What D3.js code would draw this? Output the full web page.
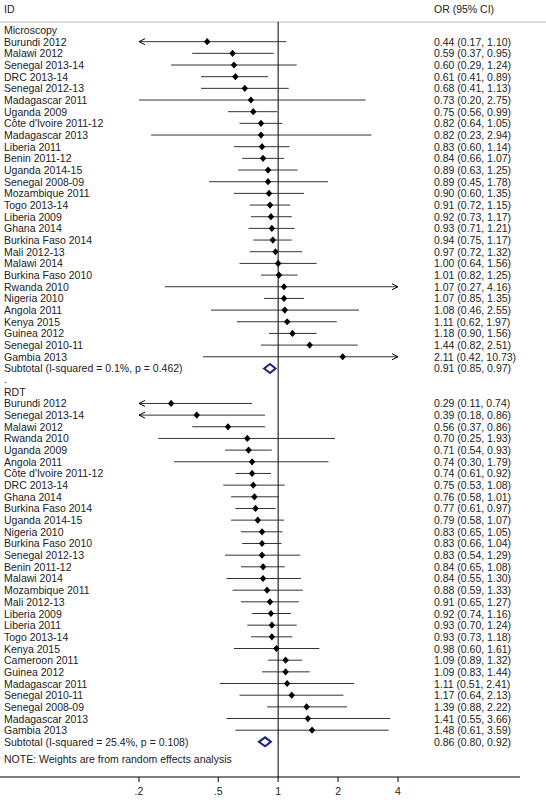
<!DOCTYPE html><html><head><meta charset="utf-8"><script src="https://cdn.jsdelivr.net/npm/d3@7"></script>
<style>body{margin:0;background:#fff}text{font-family:"Liberation Sans",Arial,sans-serif;font-size:10.5px;fill:#222}</style></head><body>
<script>
const micLabels=["Burundi 2012","Malawi 2012","Senegal 2013-14","DRC 2013-14","Senegal 2012-13","Madagascar 2011","Uganda 2009","Côte d'Ivoire 2011-12","Madagascar 2013","Liberia 2011","Benin 2011-12","Uganda 2014-15","Senegal 2008-09","Mozambique 2011","Togo 2013-14","Liberia 2009","Ghana 2014","Burkina Faso 2014","Mali 2012-13","Malawi 2014","Burkina Faso 2010","Rwanda 2010","Nigeria 2010","Angola 2011","Kenya 2015","Guinea 2012","Senegal 2010-11","Gambia 2013"];
const micOR=[0.44,0.59,0.60,0.61,0.68,0.73,0.75,0.82,0.82,0.83,0.84,0.89,0.89,0.90,0.91,0.92,0.93,0.94,0.97,1.00,1.01,1.07,1.07,1.08,1.11,1.18,1.44,2.11];
const micLo=[0.17,0.37,0.29,0.41,0.41,0.20,0.56,0.64,0.23,0.60,0.66,0.63,0.45,0.60,0.72,0.73,0.71,0.75,0.72,0.64,0.82,0.27,0.85,0.46,0.62,0.90,0.82,0.42];
const micHi=[1.10,0.95,1.24,0.89,1.13,2.75,0.99,1.05,2.94,1.14,1.07,1.25,1.78,1.35,1.15,1.17,1.21,1.17,1.32,1.56,1.25,4.16,1.35,2.55,1.97,1.56,2.51,10.73];
const micSub=[0.91,0.85,0.97], micSubLabel="Subtotal  (I-squared = 0.1%, p = 0.462)";
const rdtLabels=["Burundi 2012","Senegal 2013-14","Malawi 2012","Rwanda 2010","Uganda 2009","Angola 2011","Côte d'Ivoire 2011-12","DRC 2013-14","Ghana 2014","Burkina Faso 2014","Uganda 2014-15","Nigeria 2010","Burkina Faso 2010","Senegal 2012-13","Benin 2011-12","Malawi 2014","Mozambique 2011","Mali 2012-13","Liberia 2009","Liberia 2011","Togo 2013-14","Kenya 2015","Cameroon 2011","Guinea 2012","Madagascar 2011","Senegal 2010-11","Senegal 2008-09","Madagascar 2013","Gambia 2013"];
const rdtOR=[0.29,0.39,0.56,0.70,0.71,0.74,0.74,0.75,0.76,0.77,0.79,0.83,0.83,0.83,0.84,0.84,0.88,0.91,0.92,0.93,0.93,0.98,1.09,1.09,1.11,1.17,1.39,1.41,1.48];
const rdtLo=[0.11,0.18,0.37,0.25,0.54,0.30,0.61,0.53,0.58,0.61,0.58,0.65,0.66,0.54,0.65,0.55,0.59,0.65,0.74,0.70,0.73,0.60,0.89,0.83,0.51,0.64,0.88,0.55,0.61];
const rdtHi=[0.74,0.86,0.86,1.93,0.93,1.79,0.92,1.08,1.01,0.97,1.07,1.05,1.04,1.29,1.08,1.30,1.33,1.27,1.16,1.24,1.18,1.61,1.32,1.44,2.41,2.13,2.22,3.66,3.59];
const rdtSub=[0.86,0.80,0.92], rdtSubLabel="Subtotal  (I-squared = 25.4%, p = 0.108)";
const ticks=[0.2,0.5,1,2,4], tickLabels=[".2",".5","1","2","4"];
const fmt=v=>v.toFixed(2);
const svg=d3.select("body").append("svg").attr("width",546).attr("height",800);
const x=d3.scaleLog().base(2).domain([0.2,4]).range([139,398]);
const clipLo=0.2, clipHi=4;
const step=11.67;
svg.append("line").attr("x1",0).attr("x2",546).attr("y1",22).attr("y2",22).attr("stroke","#ccc").attr("stroke-width",1.5);
svg.append("text").attr("x",4).attr("y",13).text("ID");
svg.append("text").attr("x",434).attr("y",13).text("OR (95% CI)");
svg.append("line").attr("x1",x(1)).attr("x2",x(1)).attr("y1",22).attr("y2",777).attr("stroke","#000");
function arrow(px,py,dir){svg.append("path").attr("d",`M${px+dir*(-6)},${py-3}L${px},${py}L${px+dir*(-6)},${py+3}`).attr("fill","none").attr("stroke","#000");}
function group(y0,title,labels,or,lo,hi,sub,subLabel){
  svg.append("text").attr("x",4).attr("y",y0+4).text(title);
  labels.forEach((l,i)=>{
    const y=y0+step*(i+1);
    svg.append("text").attr("x",4).attr("y",y+4).text(l);
    svg.append("text").attr("x",434).attr("y",y+4).text(`${fmt(or[i])} (${fmt(lo[i])}, ${fmt(hi[i])})`);
    const a=Math.max(lo[i],clipLo), b=Math.min(hi[i],clipHi);
    svg.append("line").attr("x1",x(a)).attr("x2",x(b)).attr("y1",y).attr("y2",y).attr("stroke","#333");
    if(lo[i]<clipLo) arrow(x(a),y,-1);
    if(hi[i]>clipHi) arrow(x(b),y,1);
    const cx=x(or[i]);
    svg.append("path").attr("d",`M${cx-3.2},${y}L${cx},${y-3.6}L${cx+3.2},${y}L${cx},${y+3.6}Z`).attr("fill","#000");
  });
  const ys=y0+step*(labels.length+1);
  svg.append("text").attr("x",4).attr("y",ys+4).text(subLabel);
  svg.append("text").attr("x",434).attr("y",ys+4).text(`${fmt(sub[0])} (${fmt(sub[1])}, ${fmt(sub[2])})`);
  svg.append("path").attr("d",`M${x(sub[1])},${ys}L${x(sub[0])},${ys-4.5}L${x(sub[2])},${ys}L${x(sub[0])},${ys+4.5}Z`).attr("fill","none").attr("stroke","#1a237e").attr("stroke-width",2);
  return ys;
}
const s1=group(30,"Microscopy",micLabels,micOR,micLo,micHi,micSub,micSubLabel);
svg.append("text").attr("x",4).attr("y",s1+step+3).text(".");
const s2=group(s1+step*2,"RDT",rdtLabels,rdtOR,rdtLo,rdtHi,rdtSub,rdtSubLabel);
svg.append("text").attr("x",4).attr("y",s2+21).text("NOTE: Weights are from random effects analysis");
const ax=svg.append("g").attr("transform","translate(0,777)");
ax.append("line").attr("x1",0).attr("x2",520).attr("stroke","#000");
ticks.forEach((t,i)=>{ax.append("line").attr("x1",x(t)).attr("x2",x(t)).attr("y1",0).attr("y2",5).attr("stroke","#000");
 ax.append("text").attr("x",x(t)).attr("y",18).attr("text-anchor","middle").text(tickLabels[i]);});
</script></body></html>
